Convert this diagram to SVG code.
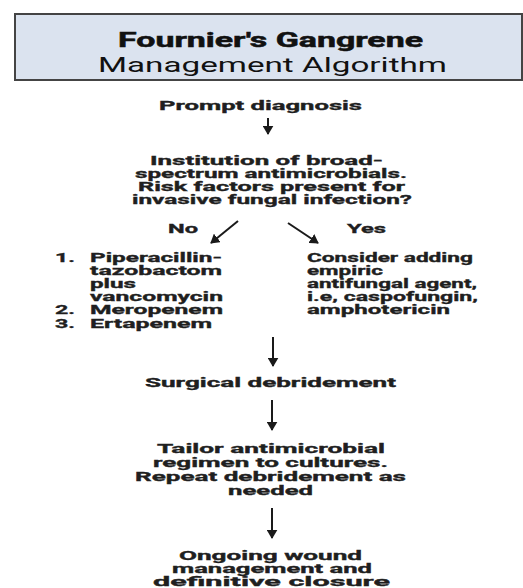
<svg xmlns="http://www.w3.org/2000/svg" width="523" height="588" viewBox="0 0 523 588">
<defs>
<marker id="ah" viewBox="0 0 10 12" refX="9" refY="6" markerWidth="4.5" markerHeight="5.5" markerUnits="strokeWidth" orient="auto">
<path d="M0,0 L10,6 L0,12 z" fill="#1a1a1a"/>
</marker>
<style>
.t{font-family:Roboto,"Liberation Sans",sans-serif;font-weight:700;font-size:13px;fill:#1f1f1f;stroke:#1f1f1f;stroke-width:0.35px}
.h1{font-family:Roboto,"Liberation Sans",sans-serif;font-weight:700;font-size:20px;fill:#111;stroke:#111;stroke-width:0.5px}
.h2{font-family:Roboto,"Liberation Sans",sans-serif;font-weight:400;font-size:21px;fill:#111}
.a{stroke:#1a1a1a;stroke-width:2;fill:none;marker-end:url(#ah)}
</style>
</defs>
<rect width="523" height="588" fill="#fff"/>
<g id="title">
<rect x="15" y="14" width="507" height="66" fill="#dbe3ef" stroke="#444" stroke-width="2"/>
<text class="h1" x="118" y="47" textLength="305" lengthAdjust="spacingAndGlyphs">Fournier's Gangrene</text>
<text class="h2" x="98" y="72" textLength="349" lengthAdjust="spacingAndGlyphs">Management Algorithm</text>
</g>
<g id="prompt">
<text class="t" x="159" y="110" textLength="203" lengthAdjust="spacingAndGlyphs">Prompt diagnosis</text>
</g>
<g id="institution">
<text class="t"><tspan x="150" y="165" textLength="233" lengthAdjust="spacingAndGlyphs">Institution of broad-</tspan><tspan x="135" y="178" textLength="272" lengthAdjust="spacingAndGlyphs">spectrum antimicrobials.</tspan><tspan x="138" y="191" textLength="267" lengthAdjust="spacingAndGlyphs">Risk factors present for</tspan><tspan x="132" y="204" textLength="280" lengthAdjust="spacingAndGlyphs">invasive fungal infection?</tspan></text>
</g>
<g id="no-label">
<text class="t" x="168" y="233" textLength="30" lengthAdjust="spacingAndGlyphs">No</text>
</g>
<g id="yes-label">
<text class="t" x="347" y="233" textLength="39" lengthAdjust="spacingAndGlyphs">Yes</text>
</g>
<g id="no-branch">
<text class="t"><tspan x="55" y="262" textLength="20" lengthAdjust="spacingAndGlyphs">1.</tspan><tspan x="90" y="262" textLength="132" lengthAdjust="spacingAndGlyphs">Piperacillin-</tspan><tspan x="90" y="275" textLength="132" lengthAdjust="spacingAndGlyphs">tazobactom</tspan><tspan x="90" y="288" textLength="46" lengthAdjust="spacingAndGlyphs">plus</tspan><tspan x="90" y="301" textLength="133" lengthAdjust="spacingAndGlyphs">vancomycin</tspan><tspan x="55" y="314" textLength="20" lengthAdjust="spacingAndGlyphs">2.</tspan><tspan x="90" y="314" textLength="133" lengthAdjust="spacingAndGlyphs">Meropenem</tspan><tspan x="55" y="328" textLength="20" lengthAdjust="spacingAndGlyphs">3.</tspan><tspan x="90" y="328" textLength="122" lengthAdjust="spacingAndGlyphs">Ertapenem</tspan></text>
</g>
<g id="yes-branch">
<text class="t"><tspan x="307" y="262" textLength="166" lengthAdjust="spacingAndGlyphs">Consider adding</tspan><tspan x="307" y="275" textLength="76" lengthAdjust="spacingAndGlyphs">empiric</tspan><tspan x="307" y="288" textLength="170" lengthAdjust="spacingAndGlyphs">antifungal agent,</tspan><tspan x="307" y="301" textLength="171" lengthAdjust="spacingAndGlyphs">i.e, caspofungin,</tspan><tspan x="307" y="314" textLength="143" lengthAdjust="spacingAndGlyphs">amphotericin</tspan></text>
</g>
<g id="surgical">
<text class="t" x="145" y="387" textLength="251" lengthAdjust="spacingAndGlyphs">Surgical debridement</text>
</g>
<g id="tailor">
<text class="t"><tspan x="157" y="453" textLength="228" lengthAdjust="spacingAndGlyphs">Tailor antimicrobial</tspan><tspan x="153" y="467" textLength="235" lengthAdjust="spacingAndGlyphs">regimen to cultures.</tspan><tspan x="135" y="481" textLength="271" lengthAdjust="spacingAndGlyphs">Repeat debridement as</tspan><tspan x="228" y="495" textLength="85" lengthAdjust="spacingAndGlyphs">needed</tspan></text>
</g>
<g id="ongoing">
<text class="t"><tspan x="179" y="560" textLength="183" lengthAdjust="spacingAndGlyphs">Ongoing wound</tspan><tspan x="172" y="573" textLength="200" lengthAdjust="spacingAndGlyphs">management and</tspan><tspan x="153" y="586" textLength="237" lengthAdjust="spacingAndGlyphs">definitive closure</tspan></text>
</g>
<g id="connectors">
<line class="a" x1="268" y1="118" x2="268" y2="134"/>
<line class="a" x1="238" y1="221" x2="211" y2="243"/>
<line class="a" x1="288" y1="223" x2="318" y2="243"/>
<line class="a" x1="273" y1="337" x2="273" y2="366"/>
<line class="a" x1="272" y1="400" x2="272" y2="430"/>
<line class="a" x1="272" y1="508" x2="272" y2="538"/>
</g>
</svg>
